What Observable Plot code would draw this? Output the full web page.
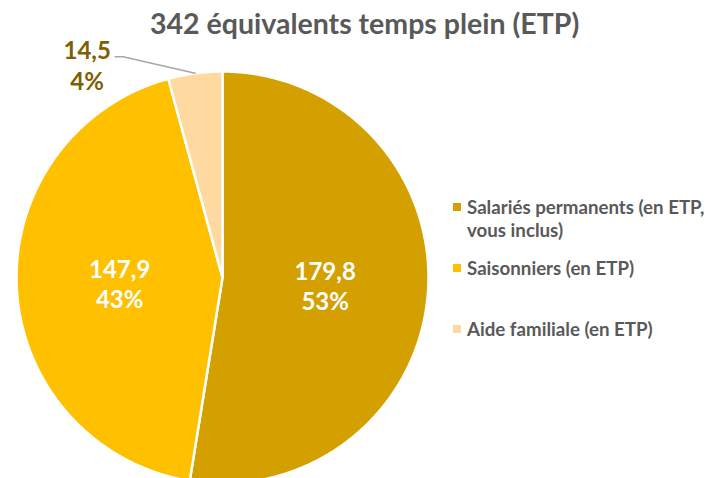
<!DOCTYPE html>
<html><head><meta charset="utf-8">
<script src="https://cdn.jsdelivr.net/npm/d3@7"></script>
<script src="https://cdn.jsdelivr.net/npm/@observablehq/plot@0.6"></script>
<style>
body{margin:0;background:#fff;font-family:Lato,"Noto Sans",sans-serif;}
#wrap{position:relative;width:708px;height:478px;overflow:hidden;}
#chart{position:absolute;left:0;top:0;}
#title{position:absolute;top:6px;left:150px;white-space:nowrap;font-size:28.5px;font-weight:bold;color:#595959;}
#legend{position:absolute;left:453px;top:0;width:255px;color:#595959;font-size:18.7px;font-weight:bold;}
.item{position:absolute;left:0;display:flex;align-items:flex-start;white-space:nowrap;line-height:23px;}
.sw{width:8px;height:8px;margin-top:7.5px;margin-right:6px;flex:none;}
</style></head><body>
<div id="wrap"><div id="chart"></div><div id="title"></div><div id="legend"></div></div>
<script>
const title = "342 équivalents temps plein (ETP)";
const categories = ["Salariés permanents (en ETP, vous inclus)", "Saisonniers (en ETP)", "Aide familiale (en ETP)"];
const legendLines = [["Salariés permanents (en ETP,", "vous inclus)"], ["Saisonniers (en ETP)"], ["Aide familiale (en ETP)"]];
const values = [179.8, 147.9, 14.5];
const valueLabels = ["179,8", "147,9", "14,5"];
const percentLabels = ["53%", "43%", "4%"];
const colors = ["#D4A000", "#FFC000", "#FFD9A0"];

// layout (pixels)
const W = 708, H = 478, cx = 222, cy = 277, R = 206;
const legendTops = [195.5, 256.5, 317.5];

const table = categories.map((c, i) => ({cat: c, value: values[i], label: valueLabels[i] + "\n" + percentLabels[i]}));
const arcs = d3.pie().sort(null).value(d => d.value)(table);

const poly = [];
arcs.forEach(p => {
  const n = Math.max(2, Math.ceil((p.endAngle - p.startAngle) / (Math.PI / 360)));
  poly.push({cat: p.data.cat, x: 0, y: 0});
  for (let i = 0; i <= n; i++) {
    const a = p.startAngle + (p.endAngle - p.startAngle) * i / n;
    poly.push({cat: p.data.cat, x: Math.sin(a), y: Math.cos(a)});
  }
  poly.push({cat: p.data.cat, x: 0, y: 0});
});

const mid = p => (p.startAngle + p.endAngle) / 2;
const inner = arcs.slice(0, 2).map(p => ({x: 0.5 * Math.sin(mid(p)), y: 0.5 * Math.cos(mid(p)), text: p.data.label}));
const small = arcs[2];
const ax = Math.sin(mid(small)), ay = Math.cos(mid(small));
const px = dx => dx / R, py = dy => -dy / R;
const leader = [
  {x: ax, y: ay},
  {x: ax + px(-72), y: ay + py(-16.5)},
  {x: ax + px(-80), y: ay + py(-16.5)}
];
const outer = [{x: ax + px(-108), y: ay + py(-9), text: small.data.label}];

const chart = Plot.plot({
  width: W, height: H, margin: 0,
  x: {domain: [-cx / R, (W - cx) / R], range: [0, W], axis: null},
  y: {domain: [(cy - H) / R, cy / R], range: [H, 0], axis: null},
  color: {domain: categories, range: colors},
  marks: [
    Plot.line(poly, {x: "x", y: "y", z: "cat", fill: "cat", stroke: "white", strokeWidth: 2.5, strokeLinejoin: "round"}),
    Plot.text(inner, {x: "x", y: "y", text: "text", fill: "white", fontSize: 24, fontWeight: "bold", lineHeight: 1.25, fontFamily: "Lato"}),
    Plot.line(leader, {x: "x", y: "y", stroke: "#A6A6A6", strokeWidth: 1.5}),
    Plot.text(outer, {x: "x", y: "y", text: "text", fill: "#7F6000", fontSize: 24, fontWeight: "bold", lineHeight: 1.3, fontFamily: "Lato"})
  ]
});
document.getElementById("chart").appendChild(chart);
document.getElementById("title").textContent = title;

const leg = document.getElementById("legend");
legendLines.forEach((lines, i) => {
  const it = document.createElement("div");
  it.className = "item";
  it.style.top = legendTops[i] + "px";
  const sw = document.createElement("div");
  sw.className = "sw";
  sw.style.background = colors[i];
  const tx = document.createElement("div");
  tx.innerHTML = lines.join("<br>");
  it.appendChild(sw); it.appendChild(tx);
  leg.appendChild(it);
});
</script></body></html>
